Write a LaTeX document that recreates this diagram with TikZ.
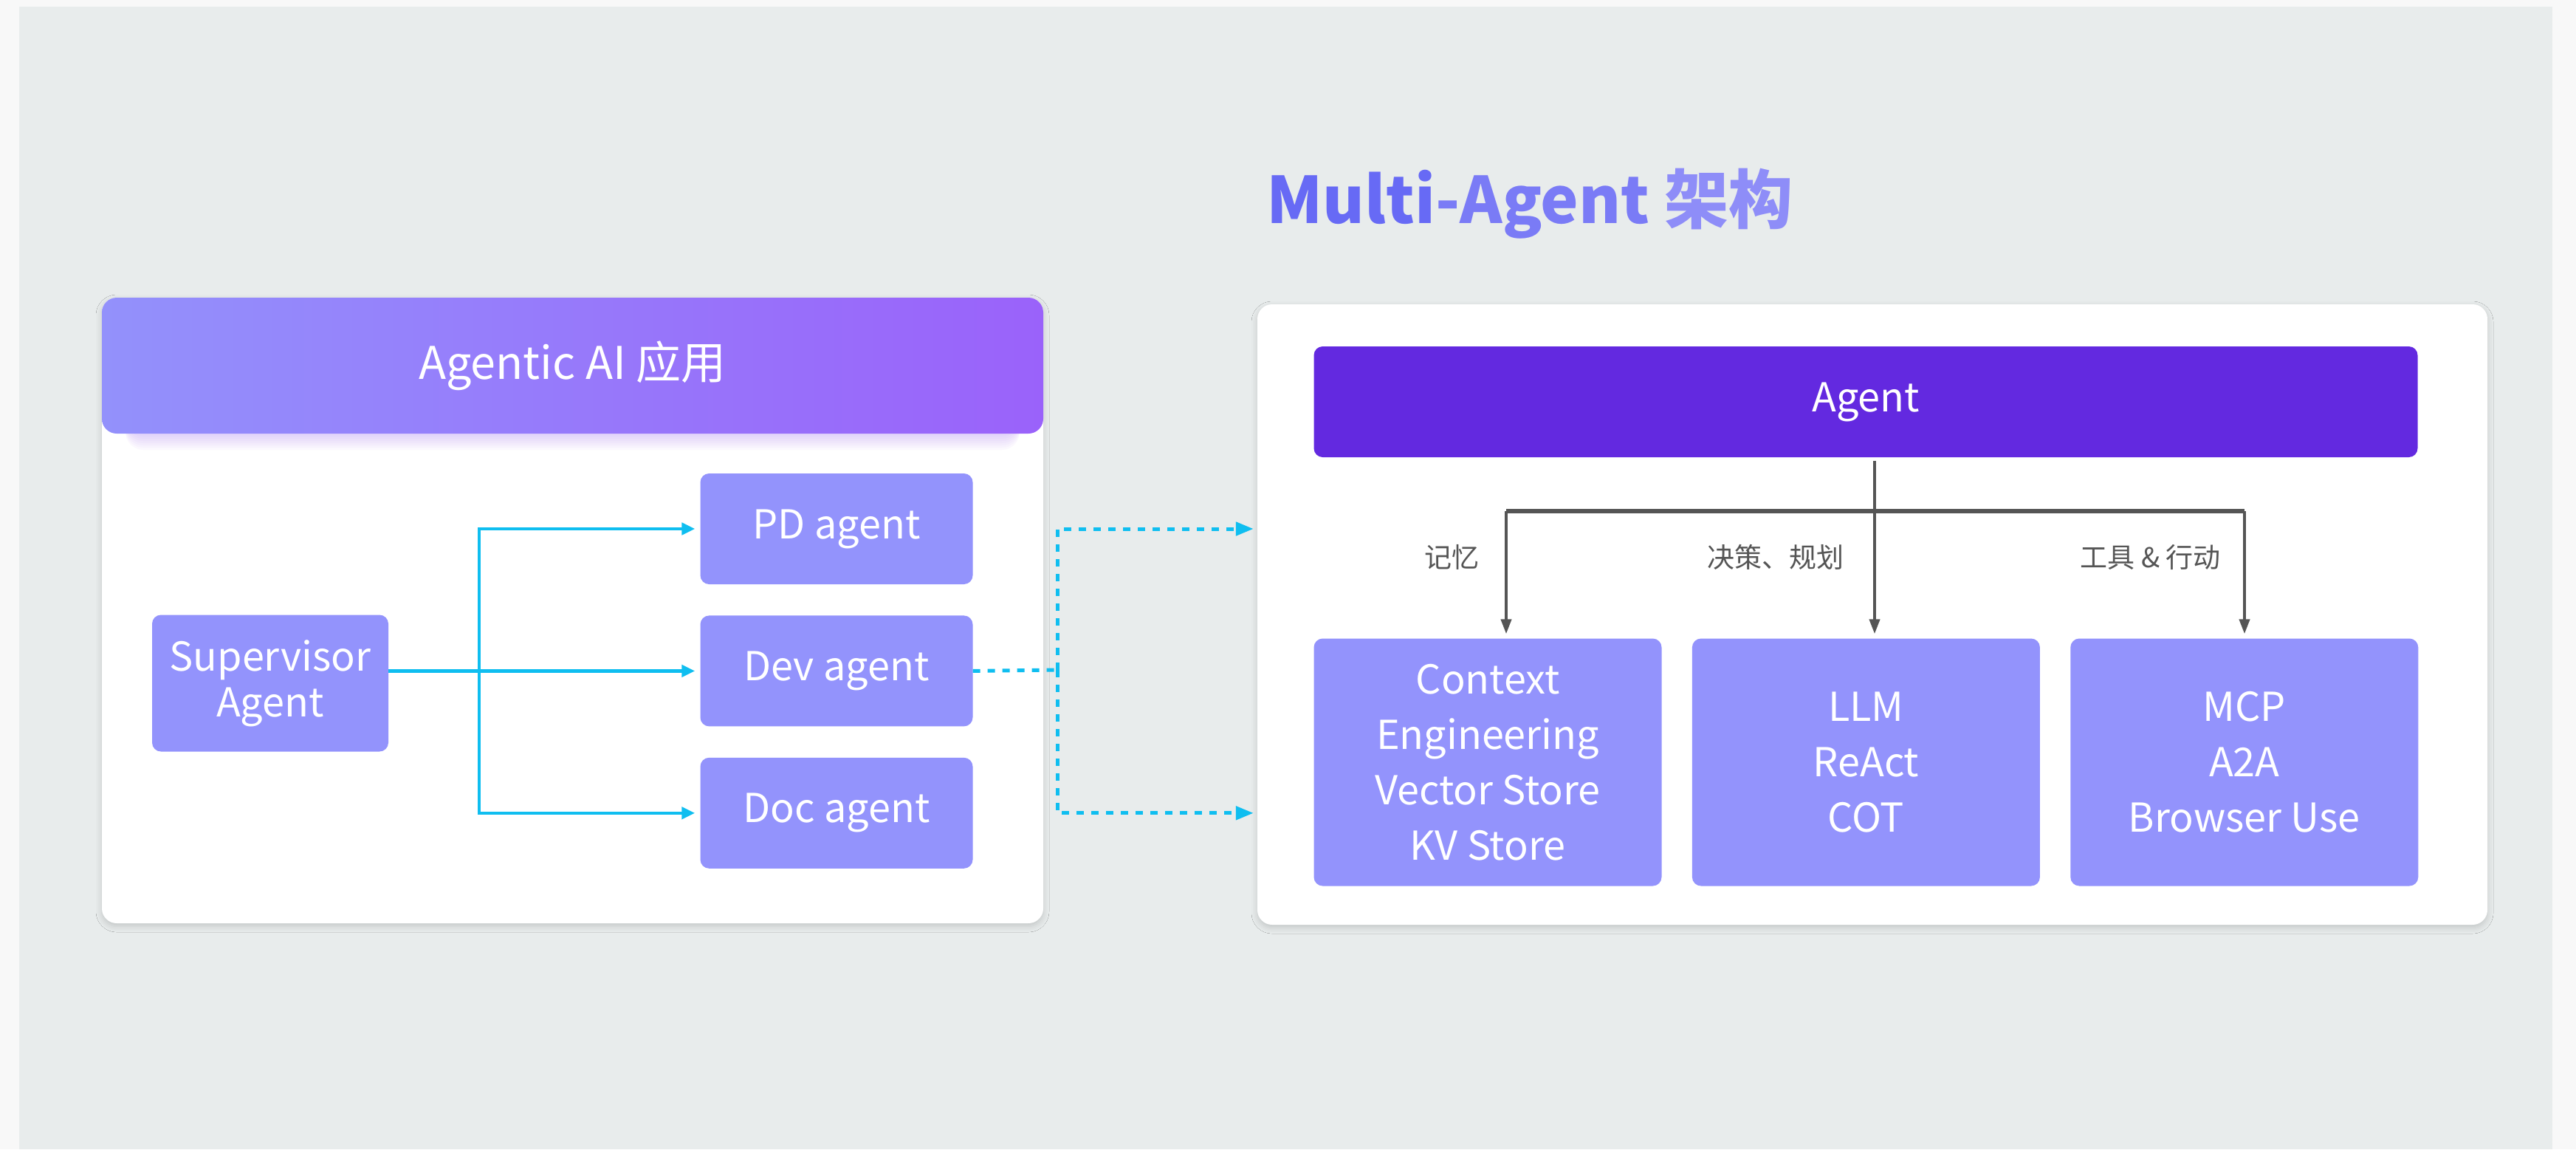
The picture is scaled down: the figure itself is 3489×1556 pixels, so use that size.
\documentclass[tikz,border=0pt]{standalone}
\usepackage{fontspec}
\setmainfont{Noto Sans CJK SC}
\usetikzlibrary{positioning,arrows.meta,shadows.blur,calc}
\definecolor{maOuter}{HTML}{F8F8F8}
\definecolor{maBack}{HTML}{E8ECEC}
\definecolor{maBox}{HTML}{9393FC}
\definecolor{maHdrL}{HTML}{9391FB}
\definecolor{maHdrR}{HTML}{9A62FA}
\definecolor{maAgent}{HTML}{6329E0}
\definecolor{maCyan}{HTML}{0FBEF0}
\definecolor{maGray}{HTML}{555555}
\definecolor{maTitleA}{HTML}{676AF5}
\definecolor{maTitleB}{HTML}{7A7BF6}
\definecolor{maTitleC}{HTML}{8E8DF8}
\tikzset{
  ma-panel/.style={
    fill=white, rounded corners=20pt, inner sep=0pt,
    blur shadow={shadow xshift=0pt, shadow yshift=-4pt,
      shadow blur radius=8pt, shadow opacity=16}
  },
  ma-hdr/.style={
    left color=maHdrL, right color=maHdrR, rounded corners=20pt,
    text=white, font=\fontsize{61}{66}\selectfont, inner sep=0pt
  },
  ma-box/.style={
    fill=maBox, rounded corners=12pt, text=white, align=center,
    font=\fontsize{54}{62}\selectfont, inner sep=0pt
  },
  ma-agent/.style={ma-box, minimum width=369pt, minimum height=150pt},
  ma-tool/.style={ma-box, font=\fontsize{54}{75}\selectfont,
    minimum width=471pt, minimum height=335pt},
  ma-flow/.style={-{Triangle[length=18pt,width=16pt]}, line width=4.5pt,
    draw=maCyan, shorten >=7pt},
  ma-link/.style={line width=5pt, draw=maCyan, dash pattern=on 10pt off 10pt},
  ma-tree/.style={-{Triangle[length=20pt,width=14pt]}, line width=4pt,
    draw=maGray, shorten >=6pt},
  ma-label/.style={font=\fontsize{37}{40}\selectfont, text=maGray, anchor=east},
  ma-title/.style={font=\fontsize{87}{92}\selectfont\bfseries}
}
\begin{document}
\begin{tikzpicture}[x=1pt, y=-1pt]
\useasboundingbox (0,0) rectangle (3489,1556);
\fill[maOuter] (0,0) rectangle (3489,1556);
\fill[maBack] (26,9) rectangle (3457,1556);

\node[ma-title] (title) at (2072,276)
  {\textcolor{maTitleA}{Multi}\textcolor{maTitleB}{-Agent }\textcolor{maTitleC}{架构}};

% left side: application
\node[ma-panel, minimum width=1275pt, minimum height=847pt] (app) at (775.5,826.5) {};
\foreach \k in {1,...,8}
  \fill[maHdrR, opacity=0.04, rounded corners=24pt] (170,520) rectangle (1381,{585+3*\k});
\node[ma-hdr, minimum width=1275pt, minimum height=184pt] (hdr) at (775.5,495) {Agentic AI 应用};

\node[ma-box, minimum width=320pt, minimum height=185pt] (sup) at (366,925) {Supervisor\\Agent};
\node[ma-agent] (pd) at (1133,716) {PD agent};
\node[ma-agent, below=42pt of pd] (dev) {Dev agent};
\node[ma-agent, below=42pt of dev] (doc) {Doc agent};

\coordinate (fork) at (649,907);
\draw[ma-flow] (sup.east |- dev.west) -- (dev.west);
\draw[ma-flow] (fork) |- (pd.west);
\draw[ma-flow] (fork) |- (doc.west);

% right side: agent
\node[ma-panel, minimum width=1666pt, minimum height=840pt] (rp) at (2536,832) {};
\node[ma-box, fill=maAgent, minimum width=1495pt, minimum height=150pt] (agent) at (2527,544) {Agent};
\node[ma-tool] (mem) at (2015,1032) {Context\\Engineering\\Vector Store\\KV Store};
\node[ma-tool, right=41pt of mem] (llm) {LLM\\ReAct\\COT};
\node[ma-tool, right=41pt of llm] (tool) {MCP\\A2A\\Browser Use};

\coordinate (hub) at (2539,692);
\coordinate (brL) at (2040,692);
\coordinate (brR) at (3040,692);
\draw[ma-tree, -, shorten >=0pt, shorten <=5pt] (agent.south -| hub) -- (hub);
\draw[ma-tree, -, shorten >=0pt, line width=6pt] (brL) -- (brR);
\draw[ma-tree] (brL) -- (brL |- mem.north);
\draw[ma-tree] (hub) -- (hub |- llm.north);
\draw[ma-tree] (brR) -- (brR |- tool.north);

\node[ma-label] (lbmem) at (2007,754) {记忆};
\node[ma-label] (lbplan) at (2501,754) {决策、规划};
\node[ma-label] (lbact) at (3011,754) {工具 \& 行动};

% dashed hand-over
\coordinate (merge) at (1432,907);
\draw[ma-link] (dev.east) -- (merge);
\draw[ma-link, -{Triangle[length=24pt,width=18pt]}, shorten >=5pt] (merge) |- (pd.east -| rp.west);
\draw[ma-link, -{Triangle[length=24pt,width=18pt]}, shorten >=5pt] (merge) |- (doc.east -| rp.west);
\end{tikzpicture}
\end{document}
